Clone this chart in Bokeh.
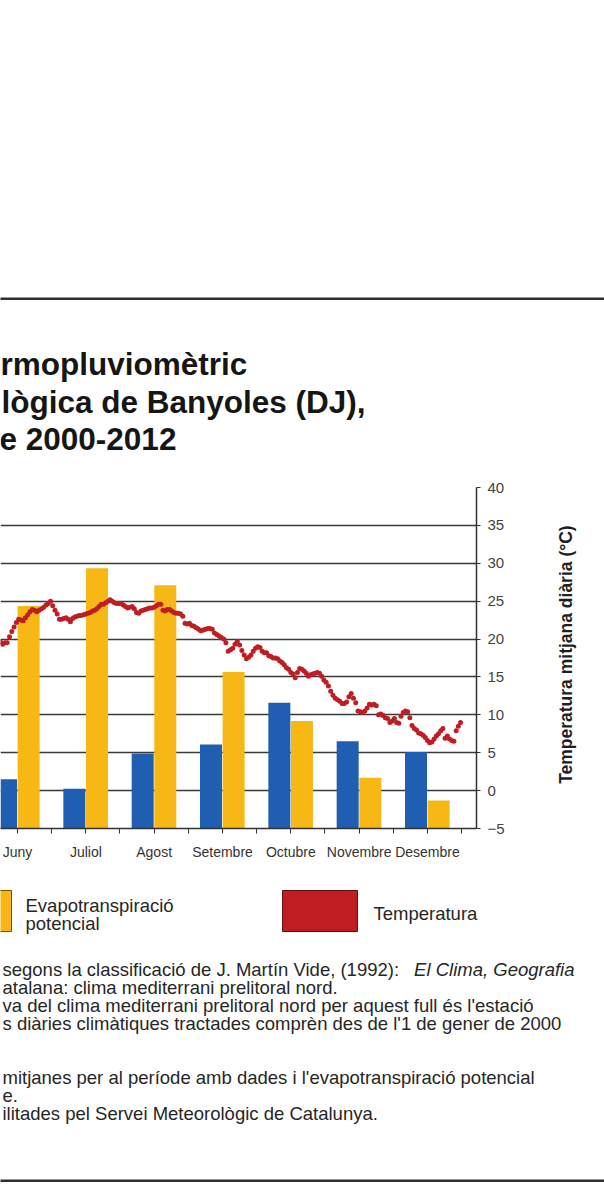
from bokeh.plotting import figure
from bokeh.models import Range1d, FixedTicker, Label
from bokeh.layouts import column, row
from bokeh.embed import file_html
from bokeh.resources import INLINE

# ---------------- data ----------------
months = ["Juny", "Juliol", "Agost", "Setembre", "Octubre", "Novembre", "Desembre"]
month_num = [6, 7, 8, 9, 10, 11, 12]
precip_mm = [13.0, 10.5, 19.8, 22.2, 33.2, 23.0, 20.2]      # precipitació (blau)
etp_mm = [58.7, 68.7, 64.2, 41.3, 28.4, 13.4, 7.4]          # evapotranspiració potencial (groc)
y_ticks = [-5, 0, 5, 10, 15, 20, 25, 30, 35, 40]

# daily mean temperature (°C)
temp_jun_from_day8 = [19.6, 19.3, 19.5, 19.5, 20.3, 21.0, 21.6, 22.2, 22.6, 22.5, 22.4, 22.8,
                      23.2, 23.6, 23.9, 23.8, 23.6, 23.8, 24.0, 24.2, 24.5, 24.7, 25.0]
temp_jul = [24.4, 23.8, 23.3, 22.6, 22.6, 22.7, 22.8, 22.6, 22.3, 22.7,
            22.9, 23.0, 23.1, 23.1, 23.2, 23.3, 23.4, 23.5, 23.7, 23.8,
            24.0, 24.3, 24.6, 24.6, 24.8, 25.0, 25.2, 25.0, 24.8, 24.7, 24.7]
temp_aug = [24.7, 24.5, 24.3, 24.1, 24.2, 24.3, 24.0, 23.5, 23.4, 23.7,
            23.8, 23.9, 24.0, 24.1, 24.1, 24.2, 24.4, 24.6, 24.6, 23.8,
            23.7, 23.9, 23.9, 23.7, 23.5, 23.4, 23.4, 23.3, 23.0, 22.1, 22.0]
temp_sep = [22.1, 21.8, 21.7, 21.5, 21.3, 21.1, 21.2, 21.3, 21.4, 21.4,
            21.3, 20.8, 20.6, 20.4, 20.2, 20.0, 19.5, 18.4, 18.6, 18.8,
            19.3, 19.7, 19.2, 18.5, 17.9, 17.4, 17.6, 17.9, 18.4, 18.8]
temp_oct = [19.0, 18.9, 18.4, 18.2, 18.2, 17.8, 17.7, 17.5, 17.5, 17.4,
            17.1, 16.9, 16.6, 16.2, 16.0, 15.6, 15.4, 14.9, 15.6, 16.1,
            16.0, 15.8, 15.5, 15.1, 15.3, 15.4, 15.5, 15.6, 15.5, 15.1, 14.6]
temp_nov = [14.3, 13.8, 13.1, 12.6, 12.2, 12.0, 11.8, 11.5, 11.5, 11.7,
            12.4, 12.8, 12.2, 11.6, 10.5, 10.4, 10.3, 10.5, 10.9, 11.4,
            11.3, 11.4, 11.2, 10.0, 10.1, 9.9, 9.6, 9.5, 9.0, 9.2]
temp_dec = [9.5, 9.0, 8.9, 9.8, 10.3, 10.5, 10.4, 9.6, 8.6, 8.2,
            8.0, 7.6, 7.5, 7.3, 7.0, 6.6, 6.3, 6.4, 6.8, 7.2,
            7.5, 7.9, 8.2, 6.9, 7.2, 6.8, 6.6, 6.5, 7.9, 8.5, 9.0]

title_lines = ["rmopluviomètric", "lògica de Banyoles (DJ),", "e 2000-2012"]
legend_etp = ["Evapotranspiració", "potencial"]
legend_temp = "Temperatura"
axis_title = "Temperatura mitjana diària (°C)"
note_1a = "segons la classificació de J. Martín Vide, (1992):"
note_1b = "El Clima, Geografia"
notes = ["atalana: clima mediterrani prelitoral nord.",
         "va del clima mediterrani prelitoral nord per aquest full és l'estació",
         "s diàries climàtiques tractades comprèn des de l'1 de gener de 2000",
         "mitjanes per al període amb dades i l'evapotranspiració potencial",
         "e.",
         "ilitades pel Servei Meteorològic de Catalunya."]

# ---------------- style / layout ----------------
BLUE = "#1f5eb0"
YELLOW = "#f7b714"
RED = "#c01d22"
GRID = "#3a3a3a"
TXT = "#262626"
FONT = "Liberation Sans"
PAGE_W = 604

TOP_H = 470          # page y 0..470
MID_H = 400          # page y 470..870
BOT_H = 320          # page y 870..1190
CHART_W = 510
SIDE_W = PAGE_W - CHART_W

FRAME_R, FRAME_T, FRAME_B = 476, 487, 828   # page pixels of the plot frame
MONTH_PX = 68.33
X0 = 6 + (0 - 17) / MONTH_PX
X1 = 6 + (FRAME_R - 17) / MONTH_PX


def blank_fig(width, height, y_top, y_bottom, x_left=0):
    f = figure(width=width, height=height, output_backend="svg", toolbar_location=None,
               x_range=Range1d(x_left, x_left + width), y_range=Range1d(y_bottom, y_top),
               x_axis_location=None, y_axis_location=None,
               min_border=0, min_border_left=0, min_border_right=0,
               min_border_top=0, min_border_bottom=0,
               outline_line_color=None, background_fill_color="white",
               border_fill_color="white")
    f.grid.visible = False
    return f


# ======== top: rule + title ========
top = blank_fig(PAGE_W, TOP_H, 0, TOP_H)
top.quad(left=[-10], right=[PAGE_W + 10], top=[297], bottom=[299.5],
         fill_color="#2e2e2e", line_color=None)
for txt, base, xl in zip(title_lines, [363, 401, 438], [0, 1, -1]):
    top.add_layout(Label(x=xl, y=base, text=txt, text_align="left",
                         text_baseline="alphabetic", text_font=FONT, text_font_size="31.5px",
                         text_font_style="bold", text_color="#161616"))

# ======== middle: chart ========
p = figure(width=CHART_W, height=MID_H, output_backend="svg", toolbar_location=None,
           x_range=Range1d(X0, X1), y_range=Range1d(-5, 40),
           y_axis_location="right",
           min_border_left=0, min_border_right=CHART_W - FRAME_R,
           min_border_top=FRAME_T - TOP_H, min_border_bottom=TOP_H + MID_H - FRAME_B,
           outline_line_color=None, background_fill_color="white",
           border_fill_color="white")
p.extra_y_ranges = {"mm": Range1d(0, 90)}

yticker = FixedTicker(ticks=y_ticks)
p.xgrid.visible = False
p.ygrid[0].ticker = yticker
p.ygrid.grid_line_color = GRID
p.ygrid.grid_line_width = 1.6

blue_x = [m - 0.168 for m in month_num]
yel_x = [m + 0.163 for m in month_num]
p.vbar(x=blue_x, top=precip_mm, bottom=0, width=0.322, y_range_name="mm",
       fill_color=BLUE, line_color=None)
p.vbar(x=yel_x, top=etp_mm, bottom=0, width=0.322, y_range_name="mm",
       fill_color=YELLOW, line_color=None)

temp_months = [(6, 30, 8, temp_jun_from_day8), (7, 31, 1, temp_jul), (8, 31, 1, temp_aug),
               (9, 30, 1, temp_sep), (10, 31, 1, temp_oct), (11, 30, 1, temp_nov),
               (12, 31, 1, temp_dec)]
tx, ty = [], []
for m, n, start, vals in temp_months:
    for i, v in enumerate(vals):
        k = start + i
        tx.append(m - 0.5 + (k - 0.5) / n)
        ty.append(v)
p.scatter(tx, ty, marker="circle", size=5, fill_color=RED, line_color=None)

ya = p.yaxis[0]
ya.ticker = yticker
ya.axis_line_color = "#333333"
ya.axis_line_width = 1.5
ya.major_tick_out = 4
ya.major_tick_in = 0
ya.major_tick_line_color = "#333333"
ya.minor_tick_line_color = None
ya.major_label_text_font = FONT
ya.major_label_text_font_size = "15px"
ya.major_label_text_color = "#444444"
ya.major_label_standoff = 7

xa = p.xaxis[0]
xa.ticker = FixedTicker(ticks=month_num, minor_ticks=[m + 0.5 for m in [5] + month_num])
xa.major_label_overrides = {m: name for m, name in zip(month_num, months)}
xa.axis_line_color = "#333333"
xa.axis_line_width = 1.5
xa.major_tick_out = 5
xa.major_tick_in = 0
xa.minor_tick_out = 5
xa.minor_tick_in = 0
xa.major_tick_line_color = "#333333"
xa.minor_tick_line_color = "#333333"
xa.major_label_text_font = FONT
xa.major_label_text_font_size = "14px"
xa.major_label_text_color = "#333333"
xa.major_label_standoff = 10

# side panel holding the right axis title (page x 510..604, y 470..870)
side = blank_fig(SIDE_W, MID_H, 0, MID_H, x_left=CHART_W)
side.y_range = Range1d(0, MID_H)   # normal orientation; y = 870 - page_y
side.add_layout(Label(x=565, y=TOP_H + MID_H - 666, text=axis_title, angle=90, angle_units="deg",
                      text_align="center", text_baseline="middle", text_font=FONT,
                      text_font_size="17.5px", text_font_style="bold", text_color="#1e1e1e"))

# ======== bottom: legend + notes + rule ========
Y_OFF = TOP_H + MID_H
bot = blank_fig(PAGE_W, BOT_H, Y_OFF, Y_OFF + BOT_H)
bot.quad(left=[-10], right=[11], top=[890], bottom=[931],
         fill_color=YELLOW, line_color="#6b5200", line_width=1)
bot.quad(left=[282], right=[357], top=[890], bottom=[931],
         fill_color=RED, line_color="#5e1010", line_width=1)
for txt, yc in zip(legend_etp, [905, 923]):
    bot.add_layout(Label(x=25, y=yc, text=txt, text_align="left", text_baseline="middle",
                         text_font=FONT, text_font_size="18.5px", text_color=TXT))
bot.add_layout(Label(x=373, y=913, text=legend_temp, text_align="left",
                     text_baseline="middle", text_font=FONT, text_font_size="18.5px",
                     text_color=TXT))

bot.add_layout(Label(x=2, y=968.5, text=note_1a, text_align="left", text_baseline="middle",
                     text_font=FONT, text_font_size="18.5px", text_color=TXT))
bot.add_layout(Label(x=574, y=968.5, text=note_1b, text_align="right", text_baseline="middle",
                     text_font=FONT, text_font_size="18.5px", text_font_style="italic",
                     text_color=TXT))
for txt, yc in zip(notes, [986.5, 1004.5, 1022.5, 1077, 1095, 1113]):
    bot.add_layout(Label(x=2, y=yc, text=txt, text_align="left", text_baseline="middle",
                         text_font=FONT, text_font_size="18.5px", text_color=TXT))
bot.quad(left=[-10], right=[PAGE_W + 10], top=[1179], bottom=[1181.5],
         fill_color="#2e2e2e", line_color=None)

layout = column(top, row(p, side), bot)
open("out.html", "w").write(file_html(layout, INLINE))
